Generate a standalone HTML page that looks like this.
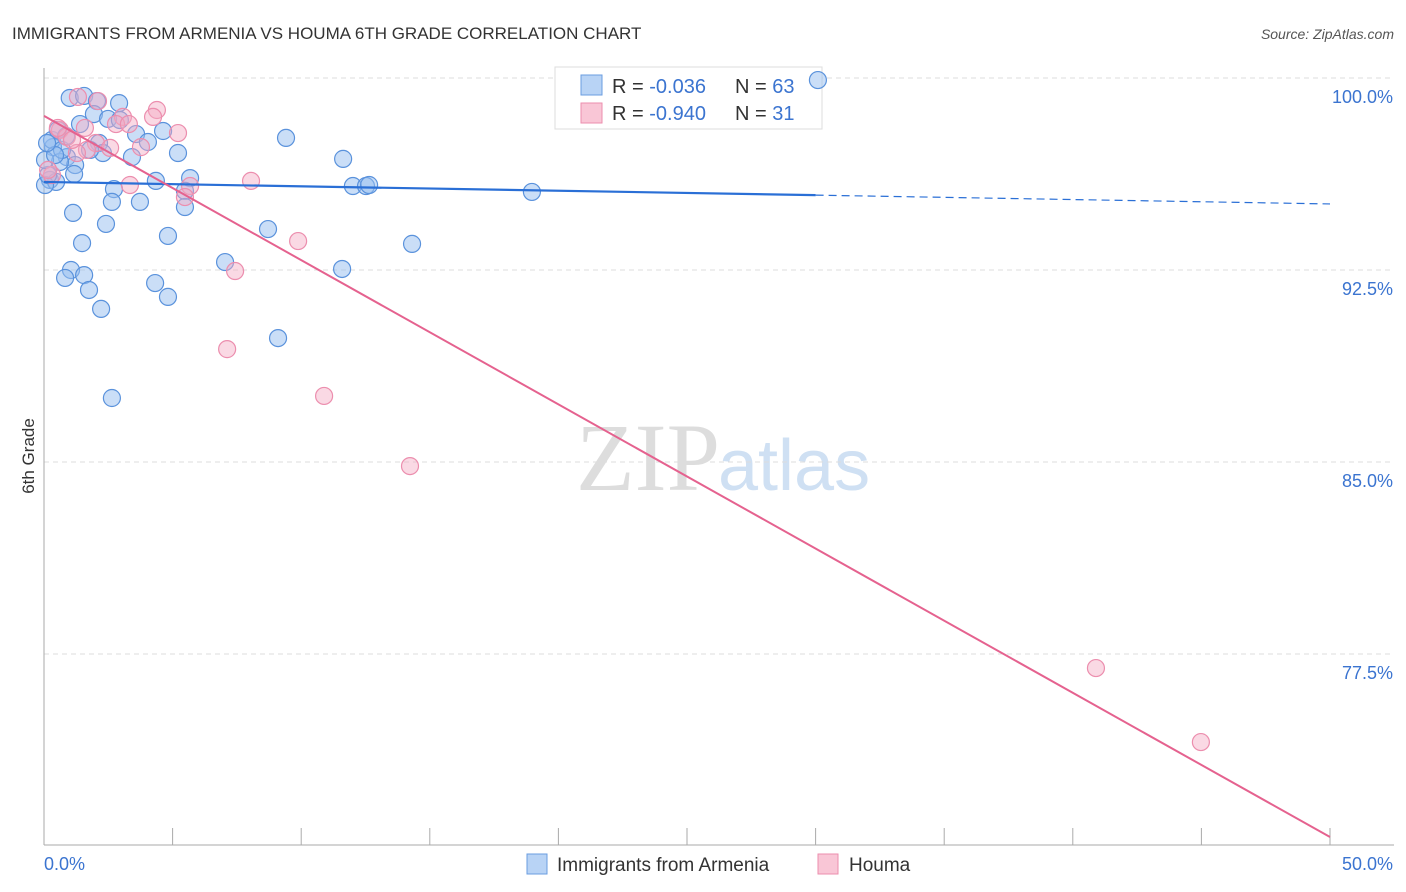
<!DOCTYPE html>
<html><head><meta charset="utf-8">
<style>
body{margin:0;background:#fff;font-family:"Liberation Sans",sans-serif;}
svg{display:block}
</style></head>
<body>
<svg id="chart" width="1406" height="892" xmlns="http://www.w3.org/2000/svg">
<text x="12" y="39" font-size="17" fill="#333">IMMIGRANTS FROM ARMENIA VS HOUMA 6TH GRADE CORRELATION CHART</text>
<text x="1394" y="39" font-size="14" fill="#555" text-anchor="end" font-style="italic">Source: ZipAtlas.com</text>
<text x="720" y="490" font-size="96" fill="#ddd" text-anchor="end" font-family="Liberation Serif,serif">ZIP</text>
<text x="718" y="490" font-size="72" fill="#cfe0f3">atlas</text>
<text transform="translate(34,456) rotate(-90)" font-size="17" fill="#333" text-anchor="middle">6th Grade</text>
<g id="grid"></g><g id="axes"></g>
<g>
<rect x="555" y="67" width="267" height="62" fill="#fff" stroke="#ddd"/>
<rect x="581" y="75" width="21" height="20" fill="#b8d3f5" stroke="#6a9de0"/>
<rect x="581" y="103" width="21" height="20" fill="#f9c6d6" stroke="#ec8eae"/>
<text x="612" y="93" font-size="20" fill="#333">R = <tspan fill="#3b74d0">-0.036</tspan></text>
<text x="735" y="93" font-size="20" fill="#333">N = <tspan fill="#3b74d0">63</tspan></text>
<text x="612" y="120" font-size="20" fill="#333">R = <tspan fill="#3b74d0">-0.940</tspan></text>
<text x="735" y="120" font-size="20" fill="#333">N = <tspan fill="#3b74d0"> 31</tspan></text>
</g>
<g id="pts"></g><g id="trend"></g>
<g>
<rect x="527" y="854" width="20" height="20" fill="#b8d3f5" stroke="#6a9de0"/>
<text x="557" y="871" font-size="19" fill="#333">Immigrants from Armenia</text>
<rect x="818" y="854" width="20" height="20" fill="#f9c6d6" stroke="#ec8eae"/>
<text x="849" y="871" font-size="19" fill="#333">Houma</text>
</g>
</svg>
<script>
const blueX=[1.0,1.56,2.06,2.92,1.94,1.4,2.49,3.58,4.63,4.04,0.35,2.14,0.89,1.21,0.62,2.29,3.42,5.21,9.41,11.63,0.23,0.47,1.17,4.35,5.68,5.48,2.72,3.73,2.64,5.48,1.13,2.41,1.48,4.82,8.71,14.31,7.04,1.05,1.56,0.82,4.32,1.75,4.82,11.59,2.22,9.1,2.64,12.01,12.52,12.64,18.97,30.09,0.04,0.16,0.31,0.54,0.7,0.04,0.43,0.12,0.86,1.79,2.95];
const blueY=[99.22,99.3,99.1,99.02,98.59,98.2,98.4,97.81,97.93,97.5,97.3,97.46,96.91,96.6,96.72,97.07,96.91,97.07,97.66,96.84,96.02,95.94,96.25,95.98,96.09,95.59,95.66,95.16,95.16,94.96,94.73,94.3,93.55,93.83,94.1,93.52,92.81,92.5,92.3,92.19,91.99,91.72,91.45,92.54,90.98,89.84,87.5,95.78,95.78,95.82,95.55,99.92,95.82,96.21,97.58,97.97,97.19,96.8,96.99,97.46,97.73,97.19,98.36];
const pinkX=[1.32,2.1,4.39,4.24,3.07,2.8,3.3,0.62,1.59,0.89,5.21,2.02,3.77,1.67,1.28,0.31,3.34,5.68,5.48,8.05,9.88,7.43,7.12,10.89,14.23,40.9,44.98,0.54,1.09,2.57,0.16];
const pinkY=[99.26,99.1,98.75,98.48,98.48,98.2,98.2,97.97,98.05,97.7,97.85,97.46,97.3,97.19,97.07,96.21,95.82,95.78,95.35,95.98,93.63,92.46,89.41,87.58,84.84,76.95,74.06,98.05,97.58,97.27,96.41];
const yTicks=[100,92.5,85,77.5];
const yTickLabels=["100.0%","92.5%","85.0%","77.5%"];
const blueTrend=[95.94,95.08];
const pinkTrend=[98.52,70.35];
const NS='http://www.w3.org/2000/svg';
const sx=v=>44+v*25.72, sy=v=>78+(100-v)*25.6;
function mk(tag,attrs,parent){const e=document.createElementNS(NS,tag);for(const k in attrs)e.setAttribute(k,attrs[k]);document.getElementById(parent).appendChild(e);return e;}
yTicks.forEach((t,i)=>{
 const g=mk('line',{x1:44,x2:1394,y1:sy(t),y2:sy(t),stroke:'#ddd','stroke-dasharray':'5,4'},'grid');
 
 
 const l=mk('text',{x:1393,y:sy(t)+25,'font-size':18,fill:'#3b74d0','text-anchor':'end'},'grid');
 l.textContent=yTickLabels[i];
 
 
});
const ax=mk('line',{x1:44,x2:44,y1:68,y2:845,stroke:'#aaa'},'axes');


const bx=mk('line',{x1:44,x2:1394,y1:845,y2:845,stroke:'#aaa'},'axes');


for(let i=0;i<=10;i++){const t=mk('line',{x1:sx(i*5),x2:sx(i*5),y1:828,y2:845,stroke:'#aaa'},'axes');
 
 }
const x0=mk('text',{x:44,y:870,'font-size':18,fill:'#3b74d0'},'axes');x0.textContent='0.0%';


const x1=mk('text',{x:1393,y:870,'font-size':18,fill:'#3b74d0','text-anchor':'end'},'axes');x1.textContent='50.0%';


blueX.forEach((x,i)=>{const c=mk('circle',{cx:sx(x),cy:sy(blueY[i]),r:8.5,fill:'rgba(150,190,240,0.5)',stroke:'#5a92dc','stroke-width':1.2},'pts');
 
 });
pinkX.forEach((x,i)=>{const c=mk('circle',{cx:sx(x),cy:sy(pinkY[i]),r:8.5,fill:'rgba(245,170,195,0.45)',stroke:'#ec8eae','stroke-width':1.2},'pts');
 
 });
const bv=x=>blueTrend[0]+(blueTrend[1]-blueTrend[0])*x/50;
const t1=mk('line',{x1:sx(0),y1:sy(bv(0)),x2:sx(30),y2:sy(bv(30)),stroke:'#2a6fd6','stroke-width':2.2},'trend');


const t2=mk('line',{x1:sx(30),y1:sy(bv(30)),x2:sx(50),y2:sy(bv(50)),stroke:'#2a6fd6','stroke-width':1.2,'stroke-dasharray':'8,5'},'trend');


const t3=mk('line',{x1:sx(0),y1:sy(pinkTrend[0]),x2:sx(50),y2:sy(pinkTrend[1]),stroke:'#e5628f','stroke-width':2},'trend');


</script>
</body></html>
